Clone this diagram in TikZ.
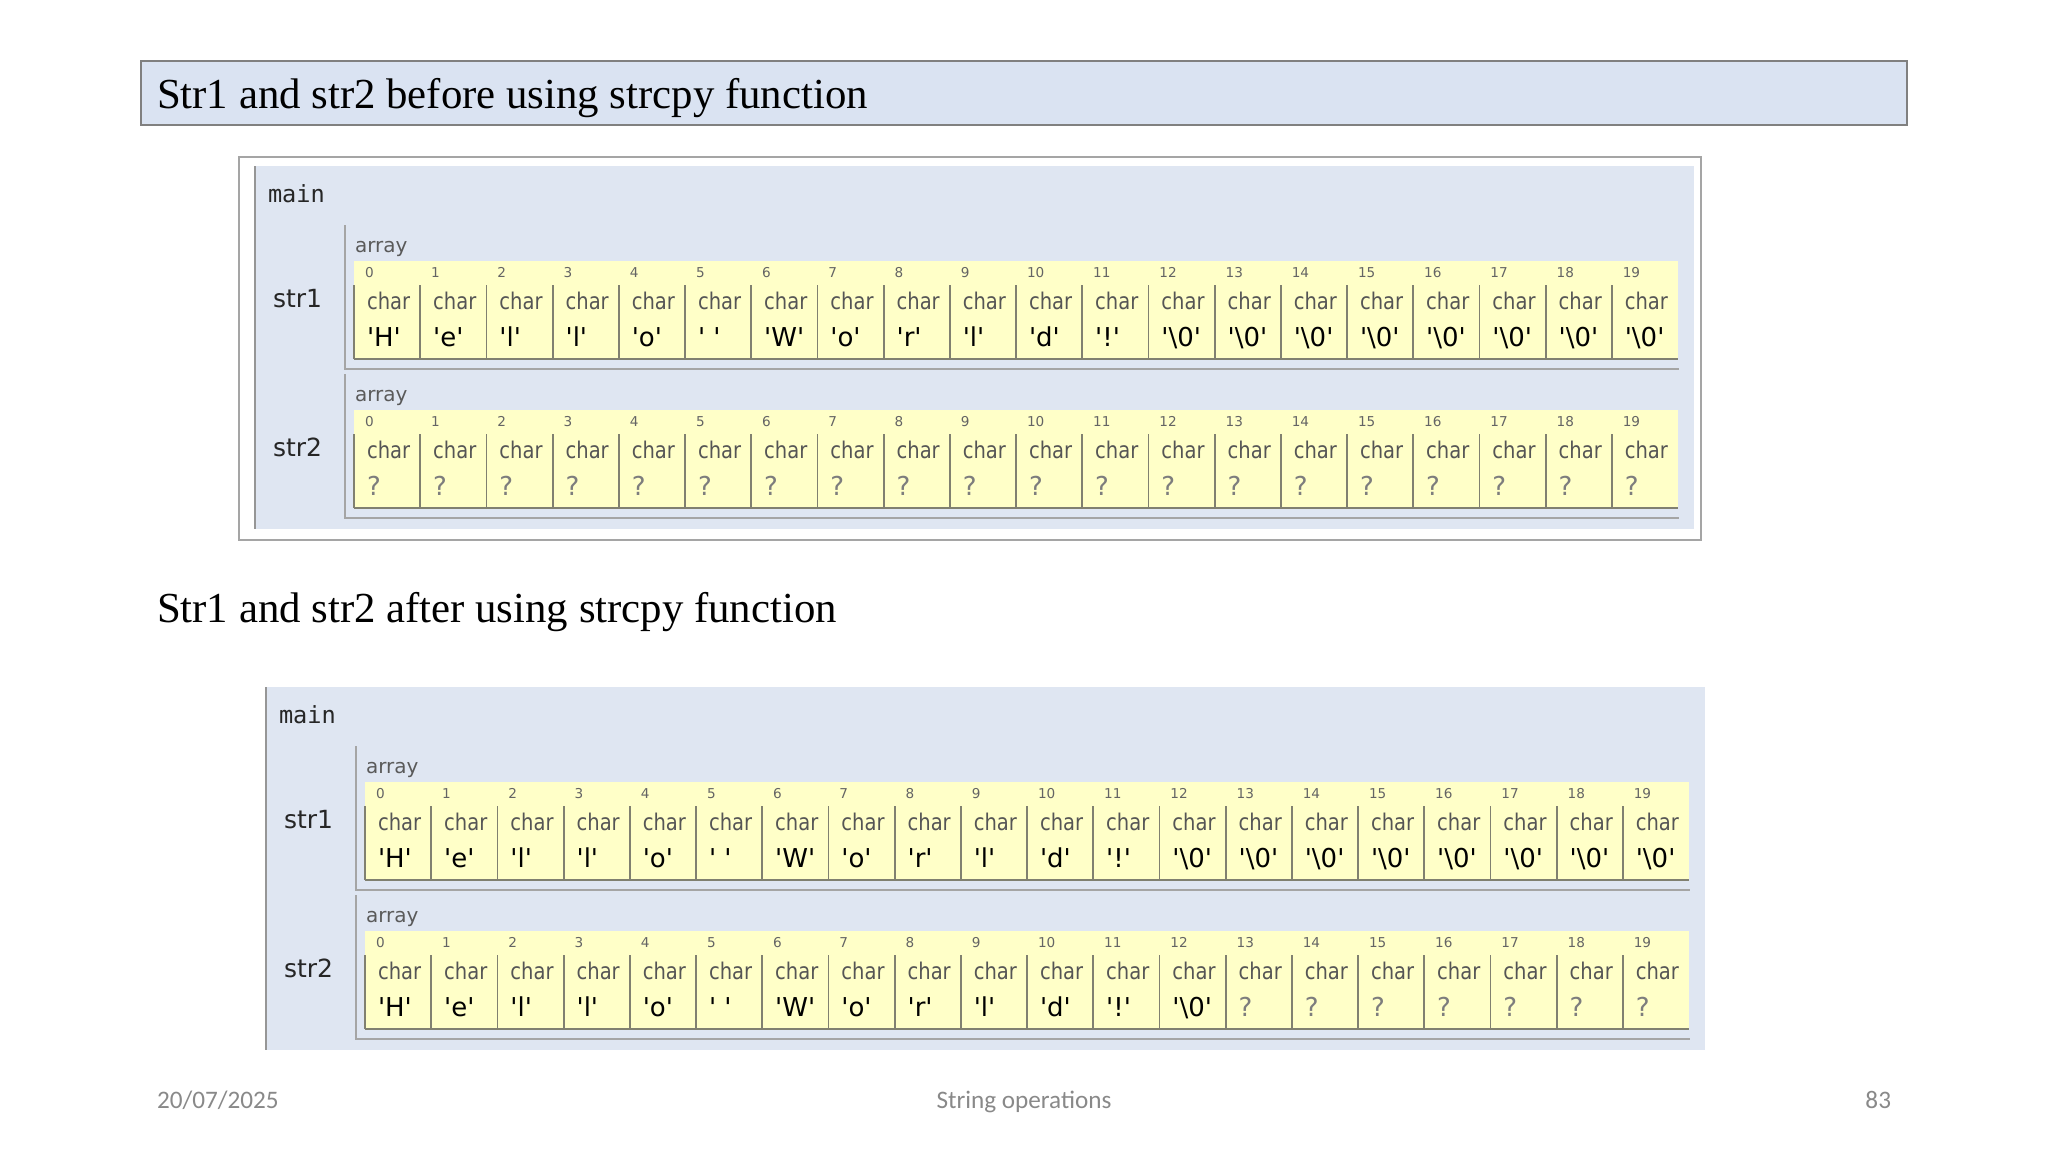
\documentclass[tikz,border=0pt]{standalone}
\usepackage{fontspec}
\setmainfont{Liberation Serif}
\newfontfamily\monof{DejaVu Sans Mono}
\newfontfamily\sansf{DejaVu Sans}
\newfontfamily\charf[FakeStretch=0.85]{DejaVu Sans}
\newfontfamily\footf{Carlito}
\definecolor{titlefill}{RGB}{218,227,242}
\definecolor{titleline}{RGB}{128,128,128}
\definecolor{panelc}{RGB}{223,230,242}
\definecolor{panelline}{RGB}{150,150,150}
\definecolor{outerline}{RGB}{165,165,165}
\definecolor{ycol}{RGB}{255,255,200}
\definecolor{cellline}{RGB}{128,128,112}
\definecolor{grpline}{RGB}{165,165,165}
\definecolor{chargray}{RGB}{85,85,85}
\definecolor{idxgray}{RGB}{100,100,100}
\definecolor{arrgray}{RGB}{90,90,90}
\definecolor{qgray}{RGB}{125,125,125}
\definecolor{footgray}{RGB}{137,137,137}
\newcommand\cval[1]{\textquotesingle#1\textquotesingle}
\newcommand\zch{\textbackslash 0}
\tikzset{
  lbl/.style={anchor=base west, inner sep=0pt, outer sep=0pt},
  idx/.style={lbl, font=\sansf\fontsize{6.8}{8}\selectfont, text=idxgray},
  chr/.style={lbl, font=\charf\fontsize{11.5}{13}\selectfont, text=chargray},
  val/.style={lbl, font=\sansf\fontsize{13}{15}\selectfont, text=black},
  unk/.style={lbl, font=\sansf\fontsize{13}{15}\selectfont, text=qgray},
  varlabel/.style={lbl, font=\sansf\fontsize{12.5}{14}\selectfont, text=black!85},
  arrlabel/.style={lbl, font=\sansf\fontsize{10}{12}\selectfont, text=arrgray},
  mainlabel/.style={lbl, font=\monof\fontsize{11.8}{14}\selectfont, text=black!85},
  cell/.style={draw=cellline, line width=0.9pt},
  grp/.style={draw=grpline, line width=0.8pt},
  heading/.style={lbl, font=\fontsize{21.4}{26}\selectfont, text=black},
  foot/.style={inner sep=0pt, outer sep=0pt, font=\footf\fontsize{12.6}{15}\selectfont, text=footgray}
}
\def\strHello{val/\cval{H},val/\cval{e},val/\cval{l},val/\cval{l},val/\cval{o},val/\cval{\ },val/\cval{W},val/\cval{o},val/\cval{r},val/\cval{l},val/\cval{d},val/\cval{!},val/\cval{\zch},val/\cval{\zch},val/\cval{\zch},val/\cval{\zch},val/\cval{\zch},val/\cval{\zch},val/\cval{\zch},val/\cval{\zch}}
\def\strUnk{unk/?,unk/?,unk/?,unk/?,unk/?,unk/?,unk/?,unk/?,unk/?,unk/?,unk/?,unk/?,unk/?,unk/?,unk/?,unk/?,unk/?,unk/?,unk/?,unk/?}
\def\strCopy{val/\cval{H},val/\cval{e},val/\cval{l},val/\cval{l},val/\cval{o},val/\cval{\ },val/\cval{W},val/\cval{o},val/\cval{r},val/\cval{l},val/\cval{d},val/\cval{!},val/\cval{\zch},unk/?,unk/?,unk/?,unk/?,unk/?,unk/?,unk/?}
% #1 prefix, #2 dy, #3 label, #4 list
\newcommand\myarray[4]{%
  \begin{scope}[shift={(0,#2)}]
    \fill[ycol] (354,261) rectangle (1678,359);
    \draw[grp] (345,225) -- (345,369) -- (1679,369);
    \node[varlabel] (#1lab) at (273,307) {#3};
    \node[arrlabel] (#1arr) at (355,252) {array};
    \foreach \s/\v [count=\i from 0] in #4 {
      \pgfmathsetmacro\xx{354+66.2*\i}
      \draw[cell] (\xx,285) -- (\xx,359);
      \node[idx] (#1i\i) at (\xx+11,277) {\i};
      \node[chr] (#1c\i) at (\xx+13,309) {char};
      \node[\s] (#1v\i) at (\xx+13,346) {\v};
    }
    \draw[cell] (354,359) -- (1678,359);
  \end{scope}}
% #1 prefix, #2 list1, #3 list2
\newcommand\mypanel[3]{%
  \fill[panelc] (255,166) rectangle (1694,529);
  \draw[draw=panelline, line width=0.8pt] (255,166) -- (255,529);
  \node[mainlabel] (#1main) at (268,202) {main};
  \myarray{#1a}{0}{str1}{#2}
  \myarray{#1b}{149}{str2}{#3}}
\begin{document}
\begin{tikzpicture}[x=0.5pt,y=-0.5pt]
  \useasboundingbox[fill=white] (0,0) rectangle (2048,1152);
  % title box
  \draw[fill=titlefill, draw=titleline, line width=0.7pt] (141,61) rectangle (1907,125);
  \node[heading] (title) at (157,108) {Str1 and str2 before using strcpy function};
  % panel 1
  \draw[draw=outerline, line width=0.8pt] (239,157) rectangle (1701,540);
  \begin{scope}
    \mypanel{p}{\strHello}{\strUnk}
  \end{scope}
  % heading 2
  \node[heading] (title2) at (157,622) {Str1 and str2 after using strcpy function};
  % panel 2
  \begin{scope}[shift={(11,521)}]
    \mypanel{q}{\strHello}{\strCopy}
  \end{scope}
  % footer
  \node[foot, anchor=base west] (date) at (157,1108) {20/07/2025};
  \node[foot, anchor=base] (topic) at (1024,1108) {String operations};
  \node[foot, anchor=base east] (page) at (1891,1108) {83};
\end{tikzpicture}
\end{document}
